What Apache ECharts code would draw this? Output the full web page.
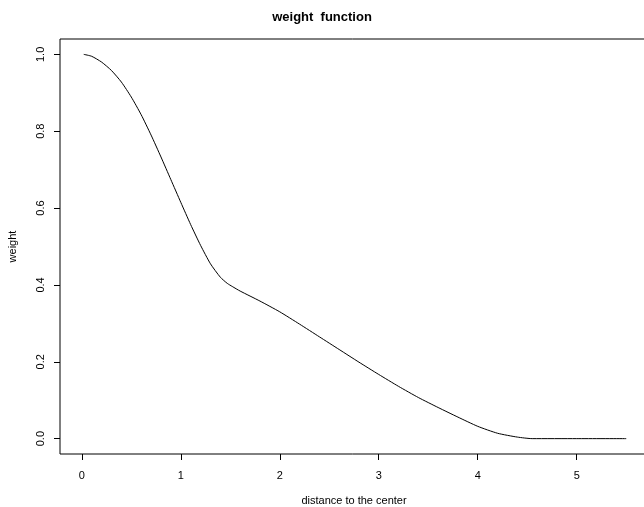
<!DOCTYPE html>
<html>
<head>
<meta charset="utf-8">
<script src="https://cdn.jsdelivr.net/npm/echarts@6/dist/echarts.min.js"></script>
<style>
  html, body { margin: 0; padding: 0; background: #fff; }
  #main { width: 644px; height: 507px; }
</style>
</head>
<body>
<div id="main"></div>
<script>
// distance values and weights
const distance = [0.02, 0.1, 0.2, 0.3, 0.4, 0.5, 0.6, 0.7, 0.8, 0.9, 1.0, 1.1, 1.2, 1.3, 1.4, 1.47, 1.52, 1.6, 1.8, 2.0, 2.2, 2.4, 2.6, 2.8, 3.0, 3.2, 3.4, 3.6, 3.8, 4.0, 4.2, 4.4, 4.55, 5.0, 5.5];
const weight = [1.000, 0.995, 0.980, 0.958, 0.928, 0.889, 0.843, 0.790, 0.733, 0.674, 0.615, 0.557, 0.503, 0.455, 0.420, 0.404, 0.396, 0.384, 0.358, 0.330, 0.298, 0.265, 0.232, 0.199, 0.167, 0.136, 0.107, 0.081, 0.056, 0.032, 0.014, 0.004, 0.000, 0.000, 0.000];
const xTicks = [0, 1, 2, 3, 4, 5];
const yTicks = [0, 0.2, 0.4, 0.6, 0.8, 1.0];

const chart = echarts.init(document.getElementById('main'));
const font = 'Liberation Sans, Arial, Helvetica, sans-serif';

const option = {
  backgroundColor: '#fff',
  animation: false,
  title: {
    text: 'weight  function',
    left: 'center',
    top: 6,
    textStyle: { fontFamily: font, fontSize: 13, fontWeight: 'bold', color: '#000' }
  },
  grid: {
    left: 60, right: -4, top: 39, bottom: 53,
    outerBoundsMode: 'none',
    show: true, borderColor: '#000', borderWidth: 1, backgroundColor: 'transparent'
  },
  xAxis: {
    type: 'value',
    min: -0.22, max: 5.72,
    name: 'distance to the center',
    nameLocation: 'middle',
    nameGap: 41,
    nameTextStyle: { fontFamily: font, fontSize: 11, color: '#000' },
    axisLine: { show: false, onZero: false },
    splitLine: { show: false },
    axisTick: { show: true, length: 6, customValues: xTicks, lineStyle: { color: '#000' } },
    axisLabel: { customValues: xTicks, margin: 16, fontFamily: font, fontSize: 11, color: '#000' }
  },
  yAxis: {
    type: 'value',
    min: -0.04, max: 1.04,
    name: 'weight',
    nameLocation: 'middle',
    nameGap: 42,
    nameRotate: 90,
    nameTextStyle: { fontFamily: font, fontSize: 11, color: '#000' },
    axisLine: { show: false, onZero: false },
    splitLine: { show: false },
    axisTick: { show: true, length: 6, customValues: yTicks, lineStyle: { color: '#000' } },
    axisLabel: {
      customValues: yTicks, rotate: 90, margin: 14,
      fontFamily: font, fontSize: 11, color: '#000',
      formatter: v => v.toFixed(1)
    }
  },
  series: [{
    type: 'line',
    data: distance.map((d, i) => [d, weight[i]]),
    smooth: 0.2,
    symbol: 'none',
    lineStyle: { color: '#000', width: 1 }
  }]
};
chart.setOption(option);
</script>
</body>
</html>
